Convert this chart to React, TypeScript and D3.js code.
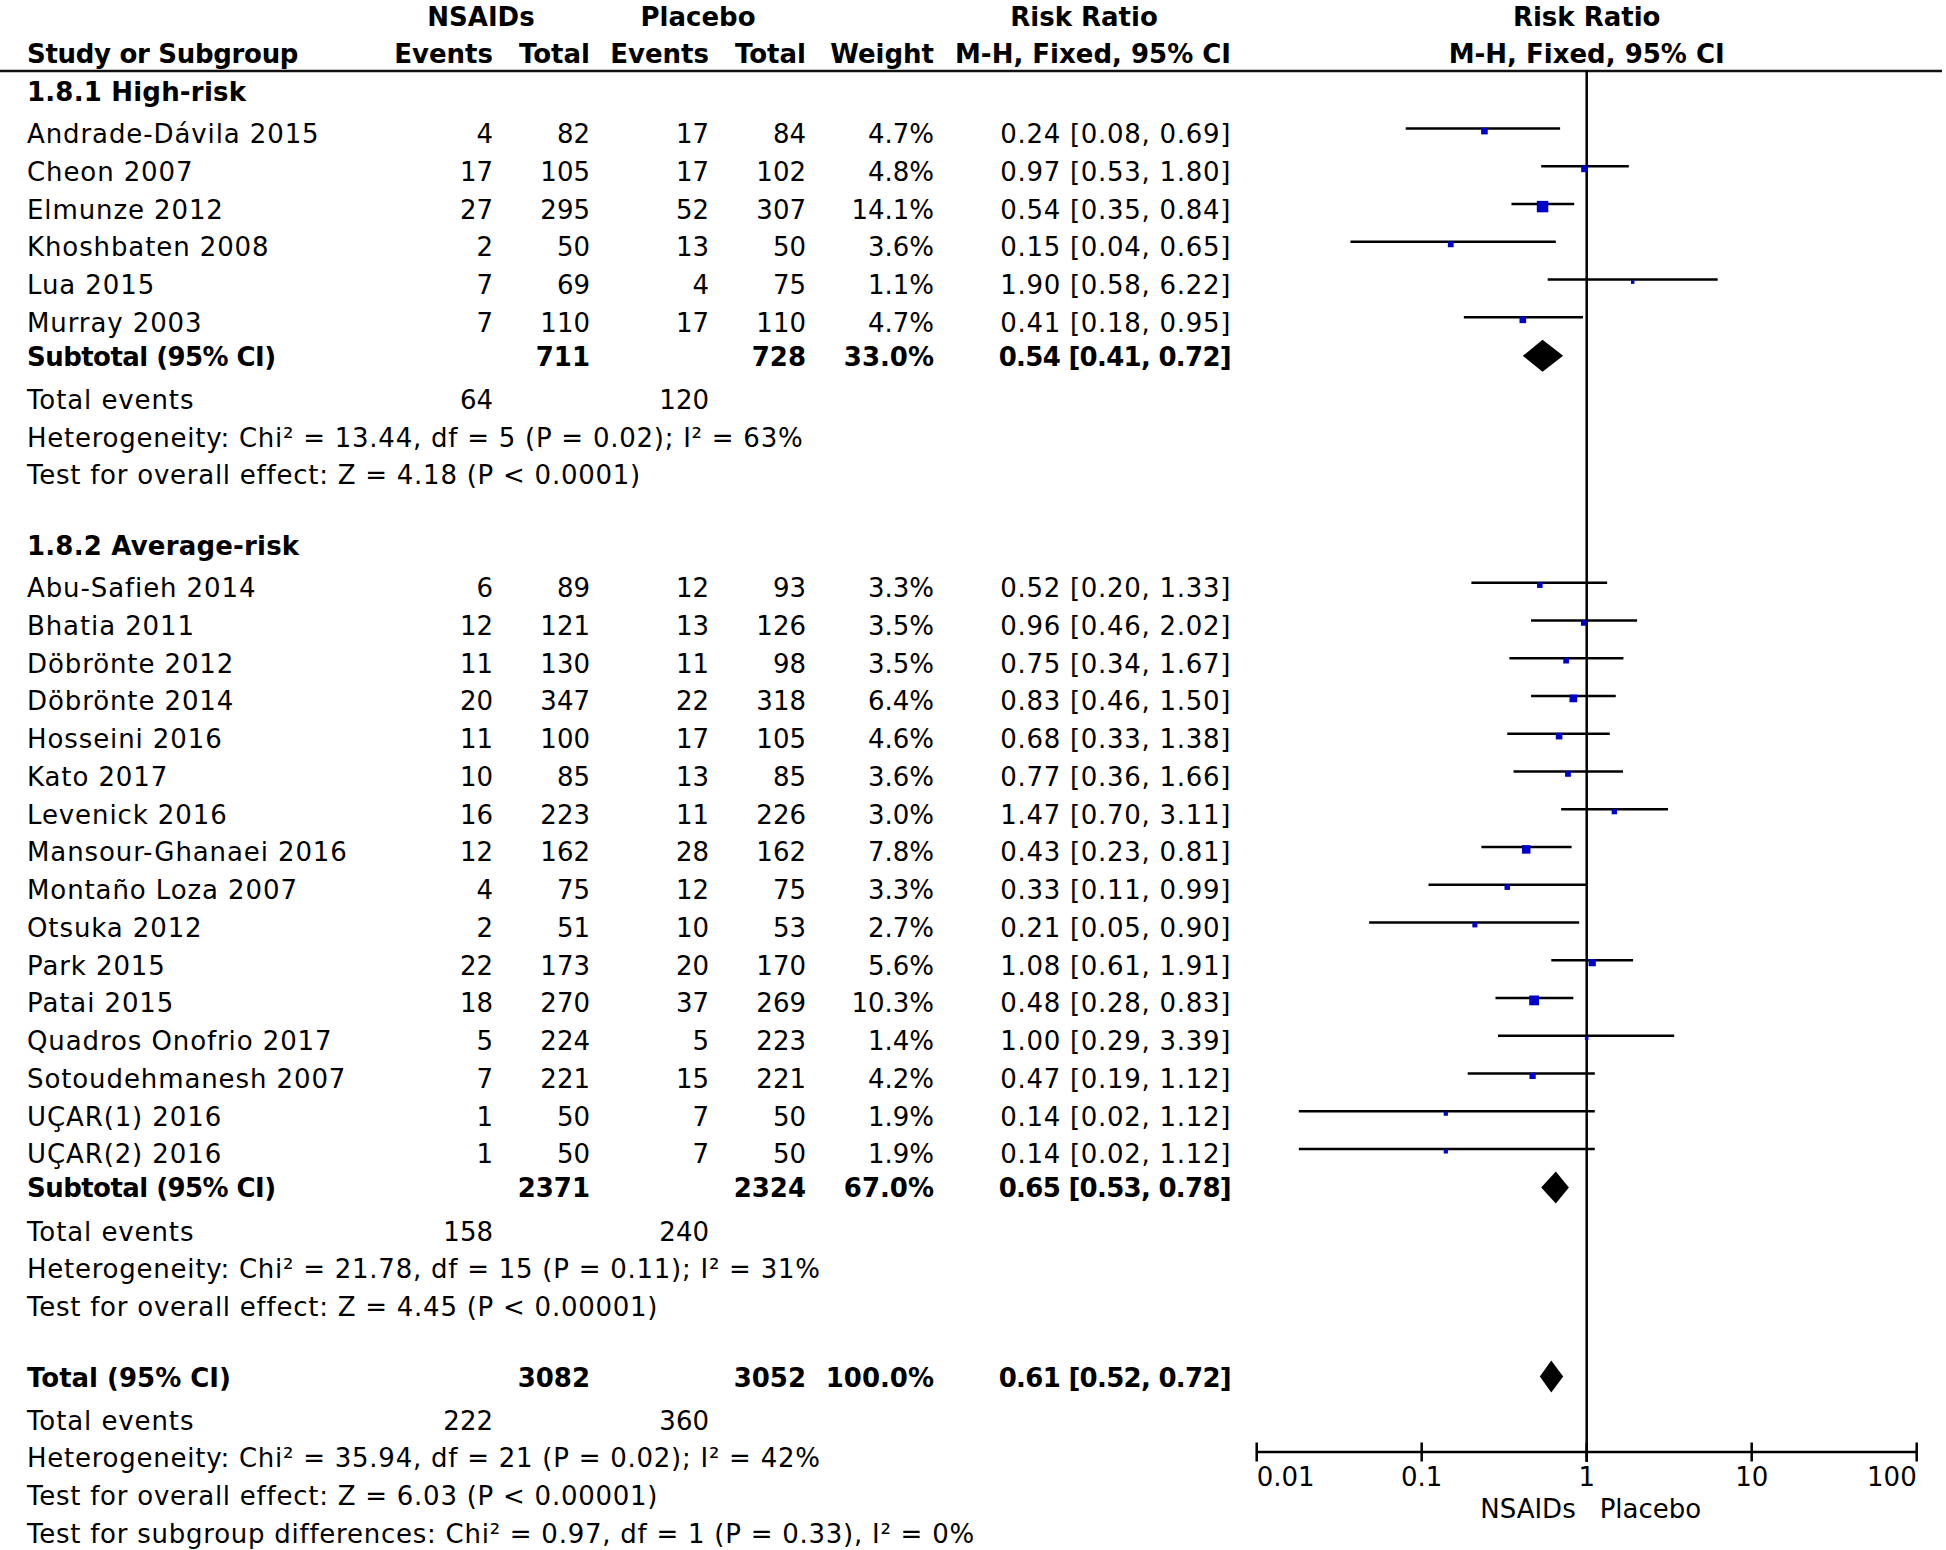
import React from 'react';
import * as d3 from 'd3';

// ---------- Data ----------
const groupTitles = ['1.8.1 High-risk', '1.8.2 Average-risk'];

const highStudies = ['Andrade-Dávila 2015', 'Cheon 2007', 'Elmunze 2012', 'Khoshbaten 2008', 'Lua 2015', 'Murray 2003'];
const highNsaidEvents = [4, 17, 27, 2, 7, 7];
const highNsaidTotal = [82, 105, 295, 50, 69, 110];
const highPlaceboEvents = [17, 17, 52, 13, 4, 17];
const highPlaceboTotal = [84, 102, 307, 50, 75, 110];
const highWeight = [4.7, 4.8, 14.1, 3.6, 1.1, 4.7];
const highRR = [0.24, 0.97, 0.54, 0.15, 1.9, 0.41];
const highLo = [0.08, 0.53, 0.35, 0.037, 0.58, 0.18];
const highHi = [0.69, 1.8, 0.84, 0.65, 6.22, 0.95];

const avgStudies = ['Abu-Safieh 2014', 'Bhatia 2011', 'Döbrönte 2012', 'Döbrönte 2014', 'Hosseini 2016', 'Kato 2017', 'Levenick 2016', 'Mansour-Ghanaei 2016', 'Montaño Loza 2007', 'Otsuka 2012', 'Park 2015', 'Patai 2015', 'Quadros Onofrio 2017', 'Sotoudehmanesh 2007', 'UÇAR(1) 2016', 'UÇAR(2) 2016'];
const avgNsaidEvents = [6, 12, 11, 20, 11, 10, 16, 12, 4, 2, 22, 18, 5, 7, 1, 1];
const avgNsaidTotal = [89, 121, 130, 347, 100, 85, 223, 162, 75, 51, 173, 270, 224, 221, 50, 50];
const avgPlaceboEvents = [12, 13, 11, 22, 17, 13, 11, 28, 12, 10, 20, 37, 5, 15, 7, 7];
const avgPlaceboTotal = [93, 126, 98, 318, 105, 85, 226, 162, 75, 53, 170, 269, 223, 221, 50, 50];
const avgWeight = [3.3, 3.5, 3.5, 6.4, 4.6, 3.6, 3.0, 7.8, 3.3, 2.7, 5.6, 10.3, 1.4, 4.2, 1.9, 1.9];
const avgRR = [0.52, 0.96, 0.75, 0.83, 0.68, 0.77, 1.47, 0.43, 0.33, 0.21, 1.08, 0.48, 1.0, 0.47, 0.14, 0.14];
const avgLo = [0.2, 0.46, 0.34, 0.46, 0.33, 0.36, 0.7, 0.23, 0.11, 0.048, 0.61, 0.28, 0.29, 0.19, 0.018, 0.018];
const avgHi = [1.33, 2.02, 1.67, 1.5, 1.38, 1.66, 3.11, 0.81, 0.99, 0.9, 1.91, 0.83, 3.39, 1.12, 1.12, 1.12];

const subNsaidTotal = [711, 2371];
const subPlaceboTotal = [728, 2324];
const subWeight = [33.0, 67.0];
const subRR = [0.54, 0.65];
const subLo = [0.41, 0.53];
const subHi = [0.72, 0.78];
const subNsaidEvents = [64, 158];
const subPlaceboEvents = [120, 240];
const subHet = [
  'Heterogeneity: Chi² = 13.44, df = 5 (P = 0.02); I² = 63%',
  'Heterogeneity: Chi² = 21.78, df = 15 (P = 0.11); I² = 31%',
];
const subTest = [
  'Test for overall effect: Z = 4.18 (P < 0.0001)',
  'Test for overall effect: Z = 4.45 (P < 0.00001)',
];

const totalNsaidTotal = 3082;
const totalPlaceboTotal = 3052;
const totalWeight = 100.0;
const totalRR = 0.61;
const totalLo = 0.52;
const totalHi = 0.72;
const totalNsaidEvents = 222;
const totalPlaceboEvents = 360;
const totalHet = 'Heterogeneity: Chi² = 35.94, df = 21 (P = 0.02); I² = 42%';
const totalTest = 'Test for overall effect: Z = 6.03 (P < 0.00001)';
const subgroupTest = 'Test for subgroup differences: Chi² = 0.97, df = 1 (P = 0.33), I² = 0%';

const axisTicks = [0.01, 0.1, 1, 10, 100];
const axisTickLabels = ['0.01', '0.1', '1', '10', '100'];

// ---------- Layout ----------
const FONT = 'DejaVu Sans';
const FS = 26;
const COL = { study: 27, ne: 493, nt: 590, pe: 709, pt: 806, w: 934, rr: 1231 };
const AXIS_Y = 1452;
const TOP_RULE = 71;

function fmtCI(rr: number, lo: number, hi: number) {
  return `${rr.toFixed(2)} [${lo.toFixed(2)}, ${hi.toFixed(2)}]`;
}

export default function App() {
  const x = d3.scaleLog().domain([0.01, 100]).range([1256.7, 1916.7]);
  const els: React.ReactNode[] = [];
  let k = 0;
  const T = (tx: number, cy: number, s: string, anchor: string = 'start', bold = false, ls = 0) => {
    els.push(
      <text key={k++} x={tx} y={cy + 10} textAnchor={anchor} fontWeight={bold ? 'bold' : 'normal'} letterSpacing={ls || undefined}>
        {s}
      </text>
    );
  };
  const NAME_LS = 0.9;
  const NOTE_LS = 0.75;
  const marks: React.ReactNode[] = [];
  const study = (cy: number, name: string, ne: number, nt: number, pe: number, pt: number, w: number, rr: number, lo: number, hi: number) => {
    T(COL.study, cy, name, 'start', false, NAME_LS);
    T(COL.ne, cy, String(ne), 'end');
    T(COL.nt, cy, String(nt), 'end');
    T(COL.pe, cy, String(pe), 'end');
    T(COL.pt, cy, String(pt), 'end');
    T(COL.w, cy, w.toFixed(1) + '%', 'end');
    T(COL.rr, cy, fmtCI(rr, lo, hi), 'end', false, 0.7);
    const ly = cy - 4.5;
    const side = Math.max(3.5, 3.05 * Math.sqrt(w));
    marks.push(<line key={k++} x1={x(lo)} x2={x(hi)} y1={ly} y2={ly} stroke="#000" strokeWidth={2.5} />);
    marks.push(<rect key={k++} x={x(rr) - side / 2} y={ly + 2.5 - side / 2} width={side} height={side} fill="#0000CC" />);
  };
  const diamond = (cy: number, rr: number, lo: number, hi: number) => {
    const pts = [[x(lo), cy], [x(rr), cy - 16], [x(hi), cy], [x(rr), cy + 16]];
    marks.push(<polygon key={k++} points={pts.map((p) => p.join(',')).join(' ')} fill="#000" />);
  };

  const groups = [
    { names: highStudies, ne: highNsaidEvents, nt: highNsaidTotal, pe: highPlaceboEvents, pt: highPlaceboTotal, w: highWeight, rr: highRR, lo: highLo, hi: highHi },
    { names: avgStudies, ne: avgNsaidEvents, nt: avgNsaidTotal, pe: avgPlaceboEvents, pt: avgPlaceboTotal, w: avgWeight, rr: avgRR, lo: avgLo, hi: avgHi },
  ];

  let cy = 90.6;
  groups.forEach((g, gi) => {
    if (gi > 0) cy += 70.7;
    T(COL.study, cy, groupTitles[gi], 'start', true, 0.2);
    g.names.forEach((n, i) => {
      cy += i === 0 ? 42.5 : 37.75;
      study(cy, n, g.ne[i], g.nt[i], g.pe[i], g.pt[i], g.w[i], g.rr[i], g.lo[i], g.hi[i]);
    });
    cy += 34;
    T(COL.study, cy, 'Subtotal (95% CI)', 'start', true, -0.55);
    T(COL.nt, cy, String(subNsaidTotal[gi]), 'end', true);
    T(COL.pt, cy, String(subPlaceboTotal[gi]), 'end', true);
    T(COL.w, cy, subWeight[gi].toFixed(1) + '%', 'end', true);
    T(COL.rr, cy, fmtCI(subRR[gi], subLo[gi], subHi[gi]), 'end', true, -0.7);
    diamond(cy, subRR[gi], subLo[gi], subHi[gi]);
    cy += 43.5;
    T(COL.study, cy, 'Total events', 'start', false, NAME_LS);
    T(COL.ne, cy, String(subNsaidEvents[gi]), 'end');
    T(COL.pe, cy, String(subPlaceboEvents[gi]), 'end');
    cy += 37.3;
    T(COL.study, cy, subHet[gi], 'start', false, NOTE_LS);
    cy += 37.3;
    T(COL.study, cy, subTest[gi], 'start', false, NOTE_LS);
  });
  cy += 71;
  T(COL.study, cy, 'Total (95% CI)', 'start', true);
  T(COL.nt, cy, String(totalNsaidTotal), 'end', true);
  T(COL.pt, cy, String(totalPlaceboTotal), 'end', true);
  T(COL.w, cy, totalWeight.toFixed(1) + '%', 'end', true);
  T(COL.rr, cy, fmtCI(totalRR, totalLo, totalHi), 'end', true, -0.7);
  diamond(cy, totalRR, totalLo, totalHi);
  cy += 43.4;
  T(COL.study, cy, 'Total events', 'start', false, NAME_LS);
  T(COL.ne, cy, String(totalNsaidEvents), 'end');
  T(COL.pe, cy, String(totalPlaceboEvents), 'end');
  cy += 37.3;
  T(COL.study, cy, totalHet, 'start', false, NOTE_LS);
  cy += 38;
  T(COL.study, cy, totalTest, 'start', false, NOTE_LS);
  cy += 37.5;
  T(COL.study, cy, subgroupTest, 'start', false, NOTE_LS);

  const x1 = x(1);

  return (
    <svg width={1946} height={1550} style={{ position: 'absolute', left: 0, top: 0, background: '#fff' }} fontFamily={FONT} fontSize={FS} fill="#000">
      <rect x={0} y={0} width={1946} height={1550} fill="#fff" />
      {/* headers */}
      <g fontWeight="bold">
        <text x={481} y={25.5} textAnchor="middle">NSAIDs</text>
        <text x={698} y={25.5} textAnchor="middle">Placebo</text>
        <text x={1084} y={25.5} textAnchor="middle">Risk Ratio</text>
        <text x={x1} y={25.5} textAnchor="middle">Risk Ratio</text>
        <text x={COL.study} y={62.6} letterSpacing={-0.3}>Study or Subgroup</text>
        <text x={COL.ne} y={62.6} textAnchor="end">Events</text>
        <text x={COL.nt} y={62.6} textAnchor="end">Total</text>
        <text x={COL.pe} y={62.6} textAnchor="end">Events</text>
        <text x={COL.pt} y={62.6} textAnchor="end">Total</text>
        <text x={COL.w} y={62.6} textAnchor="end">Weight</text>
        <text x={COL.rr} y={62.6} textAnchor="end">M-H, Fixed, 95% CI</text>
        <text x={x1} y={62.6} textAnchor="middle">M-H, Fixed, 95% CI</text>
      </g>
      <line x1={0} x2={1942} y1={TOP_RULE} y2={TOP_RULE} stroke="#111" strokeWidth={2.5} />
      {els}
      {/* null line */}
      <line x1={x1} x2={x1} y1={TOP_RULE} y2={AXIS_Y + 10} stroke="#000" strokeWidth={2.5} />
      {marks}
      {/* axis */}
      <line x1={x(0.01)} x2={x(100)} y1={AXIS_Y} y2={AXIS_Y} stroke="#000" strokeWidth={2.5} />
      {axisTicks.map((t, i) => (
        <g key={'t' + i}>
          <line x1={x(t)} x2={x(t)} y1={AXIS_Y - 9.5} y2={AXIS_Y + 9.5} stroke="#000" strokeWidth={2.5} />
          <text x={x(t)} y={1486} textAnchor={i === 0 ? 'start' : i === axisTicks.length - 1 ? 'end' : 'middle'}>
            {axisTickLabels[i]}
          </text>
        </g>
      ))}
      <text x={x1 - 11} y={1518} textAnchor="end">NSAIDs</text>
      <text x={x1 + 13} y={1518} textAnchor="start">Placebo</text>
    </svg>
  );
}
